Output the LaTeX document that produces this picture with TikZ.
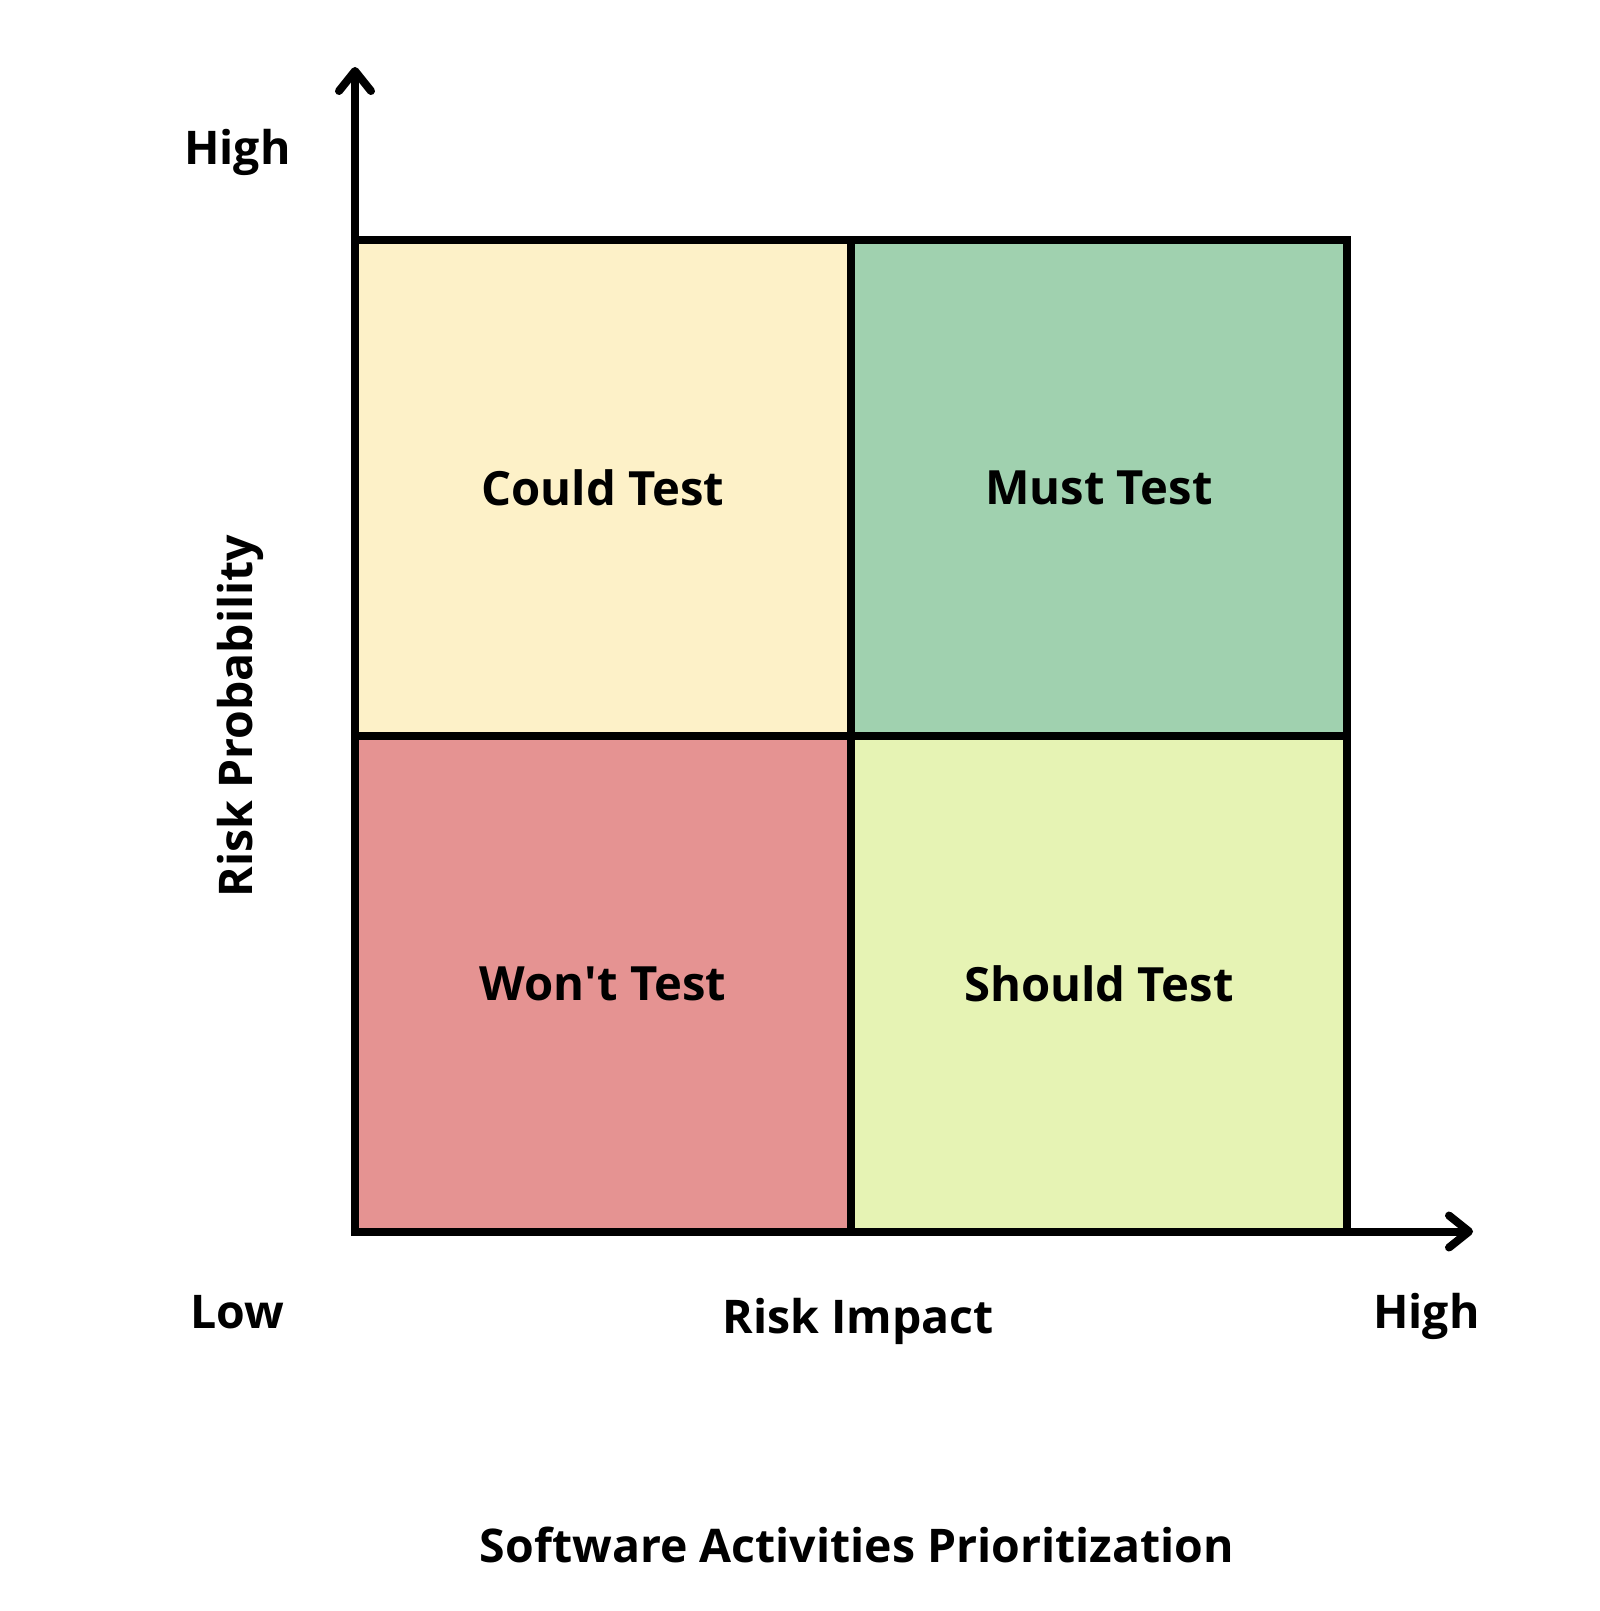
\documentclass[tikz,border=0pt]{standalone}
\usepackage{fontspec}
\setmainfont{Open Sans}
\usetikzlibrary{positioning, arrows.meta}
\definecolor{couldcolor}{RGB}{253, 241, 200}
\definecolor{mustcolor}{RGB}{160, 209, 175}
\definecolor{wontcolor}{RGB}{229, 147, 146}
\definecolor{shouldcolor}{RGB}{230, 243, 180}
\tikzstyle{cell} = [rectangle, draw=black, line width=4pt,
                    minimum width=248pt, minimum height=248pt,
                    inner sep=0pt, outer sep=0pt, text centered,
                    font=\bfseries\fontsize{23.6}{28}\selectfont]
\tikzstyle{axistext} = [anchor=base, inner sep=0pt,
                        font=\bfseries\fontsize{23.2}{28}\selectfont]
\tikzstyle{axis} = [line width=4pt, -{Straight Barb[length=10pt, width=16pt, round]}]

\begin{document}
\begin{tikzpicture}[x=0.5pt, y=-0.5pt]
        \useasboundingbox (0,0) rectangle (1600,1611);

        %Quadrants
        \node (could) [cell, fill=couldcolor] at (603,487.5) {Could Test};
        \node (must) [cell, fill=mustcolor, right=0pt of could] {Must Test};
        \node (wont) [cell, fill=wontcolor, below=0pt of could] {Won\textquotesingle t Test};
        \node (should) [cell, fill=shouldcolor, right=0pt of wont] {Should Test};

        %Axes
        \coordinate (ytip) at (355,67);
        \coordinate (xtip) at (1473,1231.5);
        \draw [axis] (wont.south west) -- (ytip);
        \draw [axis] (wont.south west) -- (xtip);

        %Axis labels
        \node (yhigh) [axistext] at (237.5,164) {High};
        \node (ylabel) [axistext, rotate=90] at (252,716) {Risk Probability};
        \node (xlow) [axistext] at (237.5,1328) {Low};
        \node (xlabel) [axistext] at (858,1333) {Risk Impact};
        \node (xhigh) [axistext] at (1426.5,1328) {High};

        %Title
        \node (title) [axistext] at (857,1562) {Software Activities Prioritization};

    \end{tikzpicture}
\end{document}
